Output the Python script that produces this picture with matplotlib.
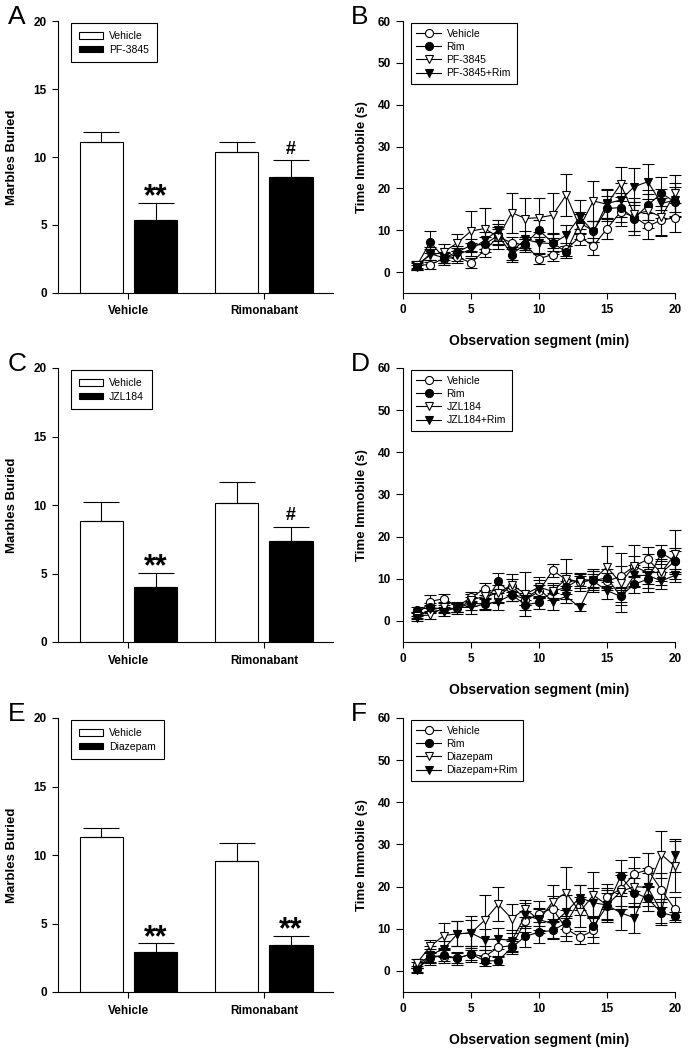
import matplotlib
matplotlib.use("Agg")
import matplotlib.pyplot as plt
from matplotlib.patches import Patch
from matplotlib.lines import Line2D

plt.rcParams["font.family"] = ["Liberation Sans", "DejaVu Sans"]
plt.rcParams["font.weight"] = "bold"

# ---- bar panels (A, C, E) ----
bar_groups = ["Vehicle", "Rimonabant"]

a_drug_name = "PF-3845"
a_vehicle = [11.1, 10.4]
a_vehicle_err = [0.75, 0.7]
a_drug = [5.4, 8.55]
a_drug_err = [1.25, 1.2]
a_marks = ["**", "#"]

c_drug_name = "JZL184"
c_vehicle = [8.85, 10.15]
c_vehicle_err = [1.35, 1.5]
c_drug = [4.05, 7.4]
c_drug_err = [1.0, 1.0]
c_marks = ["**", "#"]

e_drug_name = "Diazepam"
e_vehicle = [11.3, 9.55]
e_vehicle_err = [0.7, 1.3]
e_drug = [2.9, 3.4]
e_drug_err = [0.65, 0.7]
e_marks = ["**", "**"]

# ---- line panels (B, D, F) ----
minutes = list(range(1, 21))

b_vehicle = [1.6, 1.8, 3.2, 3.6, 2.2, 5.2, 8.4, 7.0, 6.4, 3.2, 4.2, 5.4, 8.4, 6.2, 10.4, 14.4, 13.2, 11.0, 12.4, 13.0]
b_vehicle_err = [0.8, 1.0, 1.5, 1.5, 1.2, 1.5, 2.0, 1.5, 1.5, 1.2, 1.5, 1.5, 2.0, 2.0, 2.5, 3.5, 3.5, 3.0, 3.5, 3.5]
b_rim = [1.4, 7.2, 3.4, 4.8, 6.4, 6.6, 8.8, 4.2, 6.8, 10.0, 7.0, 4.8, 11.8, 9.8, 15.2, 15.4, 12.8, 16.0, 18.8, 16.8]
b_rim_err = [0.8, 2.6, 1.2, 1.5, 1.5, 1.8, 2.0, 1.8, 1.5, 2.5, 2.0, 1.5, 2.5, 2.5, 3.0, 3.5, 4.0, 3.5, 4.0, 3.5]
b_drug = [1.8, 4.0, 4.8, 7.0, 9.8, 10.4, 8.4, 14.2, 12.8, 13.0, 13.6, 18.4, 10.8, 17.0, 16.2, 21.0, 13.8, 14.6, 13.2, 18.8]
b_drug_err = [0.8, 1.5, 2.0, 2.0, 4.8, 5.0, 3.0, 4.8, 4.8, 4.6, 5.4, 5.0, 3.0, 4.8, 3.5, 4.0, 4.0, 4.0, 4.5, 4.4]
b_combo = [1.2, 4.4, 3.4, 4.2, 5.4, 7.6, 10.0, 5.0, 7.8, 7.0, 6.8, 8.8, 13.2, 9.6, 16.4, 17.2, 20.4, 21.6, 16.4, 17.2]
b_combo_err = [0.6, 1.5, 1.2, 1.5, 1.5, 2.0, 2.5, 2.0, 2.0, 2.5, 2.5, 2.5, 4.0, 2.5, 3.5, 4.0, 4.4, 4.2, 3.5, 4.0]

d_vehicle = [1.4, 4.6, 5.3, 3.4, 5.6, 7.6, 5.8, 8.4, 5.0, 7.0, 12.0, 9.8, 9.2, 9.8, 9.4, 10.6, 13.0, 14.6, 11.4, 14.2]
d_vehicle_err = [0.8, 1.5, 1.0, 1.2, 1.2, 1.5, 1.5, 1.5, 1.2, 1.5, 1.5, 1.5, 1.5, 2.0, 2.0, 2.5, 2.5, 3.0, 2.0, 3.0]
d_rim = [2.6, 3.2, 2.8, 3.0, 4.2, 4.0, 9.4, 6.2, 3.8, 4.4, 7.0, 8.0, 9.9, 9.6, 10.2, 5.9, 8.7, 9.9, 16.1, 14.2]
d_rim_err = [0.8, 1.0, 1.0, 1.0, 1.5, 1.2, 2.0, 1.5, 1.2, 1.5, 1.5, 1.5, 1.5, 1.5, 2.0, 1.5, 2.0, 2.0, 2.0, 2.5]
d_drug = [1.2, 1.4, 3.2, 2.8, 5.0, 5.8, 6.6, 8.6, 6.4, 8.0, 7.0, 10.0, 9.2, 9.8, 12.8, 9.0, 13.0, 11.4, 11.6, 15.8]
d_drug_err = [0.8, 1.0, 1.2, 1.2, 1.5, 1.5, 2.0, 2.5, 5.2, 2.5, 2.0, 4.8, 2.0, 2.5, 5.0, 7.0, 5.0, 4.5, 3.0, 5.8]
d_combo = [0.6, 2.8, 2.2, 3.2, 3.2, 4.0, 4.6, 6.2, 5.2, 7.6, 4.6, 5.8, 3.2, 9.4, 7.2, 5.8, 10.8, 10.8, 9.5, 10.8]
d_combo_err = [0.6, 1.0, 1.0, 1.0, 1.5, 1.5, 2.0, 1.5, 1.5, 2.0, 2.0, 1.5, 0.8, 2.5, 2.0, 2.0, 2.5, 2.0, 2.0, 1.5]

f_vehicle = [1.4, 3.6, 3.4, 3.0, 4.0, 3.4, 5.6, 6.0, 11.8, 13.6, 14.8, 10.0, 8.0, 9.6, 17.6, 19.4, 23.0, 24.0, 19.2, 14.6]
f_vehicle_err = [0.8, 1.5, 1.5, 1.5, 2.0, 1.5, 2.0, 1.5, 2.5, 3.0, 3.0, 3.0, 1.5, 3.0, 3.0, 4.0, 4.0, 4.0, 4.0, 3.0]
f_rim = [0.4, 3.0, 3.8, 3.0, 4.0, 2.4, 2.4, 5.6, 8.2, 9.2, 9.6, 11.4, 16.8, 10.6, 15.4, 22.4, 18.6, 17.2, 13.8, 13.0]
f_rim_err = [0.8, 1.5, 1.5, 1.2, 1.5, 1.2, 1.0, 1.5, 2.5, 2.5, 2.0, 3.0, 3.5, 2.5, 3.0, 4.0, 3.5, 3.0, 2.5, 1.0]
f_drug = [1.8, 5.8, 8.4, 8.8, 9.0, 12.0, 15.8, 12.4, 14.8, 12.0, 16.4, 18.6, 14.0, 18.0, 15.6, 18.8, 20.0, 19.8, 27.6, 24.8]
f_drug_err = [1.0, 1.5, 3.0, 3.0, 4.0, 6.0, 4.0, 3.5, 2.0, 3.0, 4.0, 6.0, 3.5, 5.5, 4.0, 4.0, 4.5, 4.5, 5.5, 6.0]
f_combo = [0.2, 3.8, 5.2, 8.8, 9.0, 7.4, 7.6, 7.2, 13.2, 12.2, 11.2, 14.0, 17.4, 16.2, 15.6, 13.8, 12.6, 19.8, 14.0, 27.4]
f_combo_err = [0.5, 2.0, 2.0, 3.0, 3.0, 2.5, 2.5, 2.5, 3.0, 2.5, 3.5, 4.0, 3.0, 3.5, 3.5, 4.0, 3.5, 3.5, 3.0, 4.0]

W, H = 691, 1050
fig = plt.figure(figsize=(W / 100, H / 100), dpi=100)
fig.patch.set_facecolor("white")


def px_axes(x0, y0, x1, y1):
    return fig.add_axes([x0 / W, 1 - y1 / H, (x1 - x0) / W, (y1 - y0) / H])


def style_axes(ax):
    for s in ["top", "right"]:
        ax.spines[s].set_visible(False)
    for s in ["left", "bottom"]:
        ax.spines[s].set_linewidth(0.8)
    ax.tick_params(direction="out", length=4, width=0.8, labelsize=8.5, pad=4)


def draw_bars(ax, veh, veh_err, drug, drug_err, drug_name, marks):
    style_axes(ax)
    xs = list(range(len(bar_groups)))
    w = 0.32
    ax.bar([x - 0.2 for x in xs], veh, w, color="white", edgecolor="black", linewidth=0.8,
           yerr=[[0] * len(veh), veh_err], capsize=13, error_kw=dict(elinewidth=0.8, capthick=0.8))
    ax.bar([x + 0.2 for x in xs], drug, w, color="black", edgecolor="black", linewidth=0.8,
           yerr=[[0] * len(drug), drug_err], capsize=13, error_kw=dict(elinewidth=0.8, capthick=0.8))
    for x, v, e, m in zip(xs, drug, drug_err, marks):
        if m == "**":
            ax.text(x + 0.2, v + e - 0.2, m, ha="center", va="baseline", fontsize=22, fontweight="bold")
        elif m:
            ax.text(x + 0.2, v + e + 0.2, m, ha="center", va="bottom", fontsize=13, fontweight="bold")
    ax.set_xlim(-0.52, 1.51)
    ax.set_ylim(0, 20)
    ax.set_yticks([0, 5, 10, 15, 20])
    ax.set_xticks(xs)
    ax.set_xticklabels(bar_groups, fontsize=8.5)
    ax.tick_params(axis="x", pad=5)
    ax.set_ylabel("Marbles Buried", fontsize=9.5, fontweight="bold")
    ax.yaxis.set_label_coords(-0.145, 0.5)
    handles = [Patch(facecolor="white", edgecolor="black", linewidth=0.8),
               Patch(facecolor="black", edgecolor="black", linewidth=0.8)]
    leg = ax.legend(handles, ["Vehicle", drug_name], loc="upper left", bbox_to_anchor=(0.04, 1.0),
                    prop=dict(size=7.5, weight="normal"), fancybox=False, framealpha=1,
                    handlelength=2.3, handleheight=0.6, borderpad=0.75, labelspacing=0.35,
                    handletextpad=0.6, borderaxespad=0.2)
    leg.get_frame().set_edgecolor("black")
    leg.get_frame().set_linewidth(0.8)


def draw_lines(ax, series, names):
    style_axes(ax)
    ax.tick_params(axis="y", length=5)
    looks = [("o", "white", 5.8), ("o", "black", 5.8), ("v", "white", 6.2), ("v", "black", 6.2)]
    handles = []
    for (vals, errs), (mk, fc, ms) in zip(series, looks):
        eb = ax.errorbar(minutes, vals, yerr=errs, fmt="-", color="black", linewidth=0.8,
                         marker=mk, markersize=ms, markerfacecolor=fc, markeredgecolor="black",
                         markeredgewidth=0.8, ecolor="black", elinewidth=0.8, capsize=4.5, capthick=0.8)
        for child in eb.get_children():
            child.set_clip_on(False)
        handles.append(Line2D([], [], color="black", linewidth=0.8, marker=mk, markersize=ms,
                              markerfacecolor=fc, markeredgecolor="black", markeredgewidth=0.8))
    ax.set_xlim(0, 20)
    ax.set_ylim(-5, 60)
    ax.set_xticks([0, 5, 10, 15, 20])
    ax.set_yticks([0, 10, 20, 30, 40, 50, 60])
    ax.set_ylabel("Time Immobile (s)", fontsize=9.5, fontweight="bold")
    ax.yaxis.set_label_coords(-0.13, 0.5)
    ax.set_xlabel("Observation segment (min)", fontsize=10, fontweight="bold")
    ax.xaxis.set_label_coords(0.5, -0.15)
    leg = ax.legend(handles, names, loc="upper left", bbox_to_anchor=(0.02, 1.0),
                    prop=dict(size=7.5, weight="normal"), fancybox=False, framealpha=1,
                    handlelength=2.4, borderpad=0.55, labelspacing=0.3,
                    handletextpad=0.5, borderaxespad=0.2)
    leg.get_frame().set_edgecolor("black")
    leg.get_frame().set_linewidth(0.8)


rows = [(21, 293), (368, 642), (718, 992)]
bar_data = [
    (a_vehicle, a_vehicle_err, a_drug, a_drug_err, a_drug_name, a_marks),
    (c_vehicle, c_vehicle_err, c_drug, c_drug_err, c_drug_name, c_marks),
    (e_vehicle, e_vehicle_err, e_drug, e_drug_err, e_drug_name, e_marks),
]
line_data = [
    ([(b_vehicle, b_vehicle_err), (b_rim, b_rim_err), (b_drug, b_drug_err), (b_combo, b_combo_err)],
     ["Vehicle", "Rim", "PF-3845", "PF-3845+Rim"]),
    ([(d_vehicle, d_vehicle_err), (d_rim, d_rim_err), (d_drug, d_drug_err), (d_combo, d_combo_err)],
     ["Vehicle", "Rim", "JZL184", "JZL184+Rim"]),
    ([(f_vehicle, f_vehicle_err), (f_rim, f_rim_err), (f_drug, f_drug_err), (f_combo, f_combo_err)],
     ["Vehicle", "Rim", "Diazepam", "Diazepam+Rim"]),
]
letters = [("A", "B"), ("C", "D"), ("E", "F")]

for (top, bottom), bd, ld, (l1, l2) in zip(rows, bar_data, line_data, letters):
    ax_bar = px_axes(58, top, 333, bottom)
    draw_bars(ax_bar, *bd)
    ax_line = px_axes(403, top, 675, bottom)
    draw_lines(ax_line, *ld)
    fig.text(8 / W, 1 - (top - 16) / H, l1, fontsize=19, fontweight="normal", va="top", ha="left")
    fig.text(351 / W, 1 - (top - 16) / H, l2, fontsize=19, fontweight="normal", va="top", ha="left")

fig.savefig("out.png", dpi=100)
